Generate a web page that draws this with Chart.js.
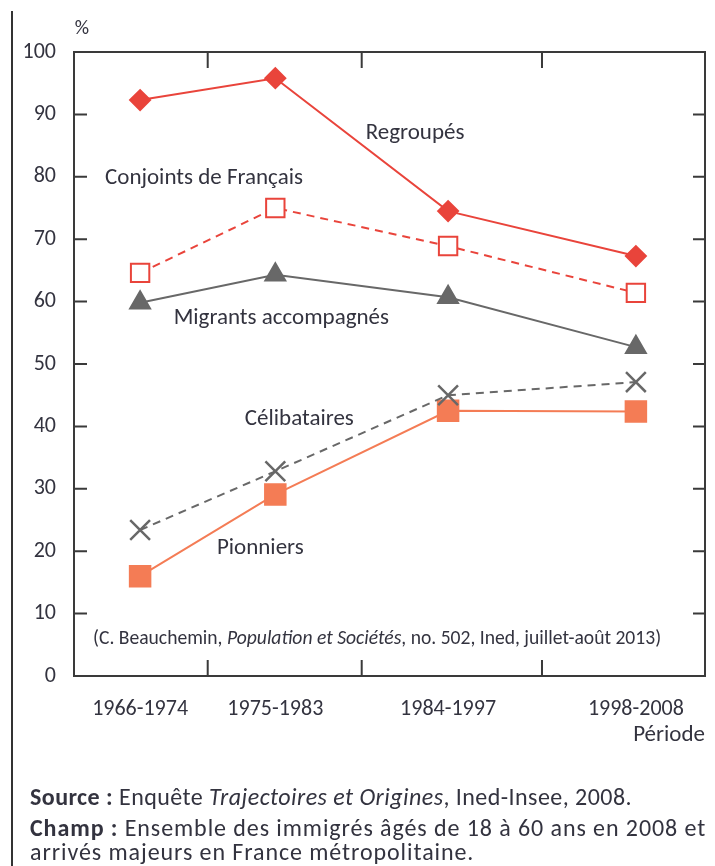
<!DOCTYPE html>
<html>
<head>
<meta charset="utf-8">
<script src="https://cdn.jsdelivr.net/npm/chart.js@4/dist/chart.umd.min.js"></script>
<style>
  html, body { margin: 0; background: #fff; overflow: hidden; }
  #wrap { position: relative; width: 715px; height: 866px; }
  #chart { display: block; }
  #frameLine { position: absolute; left: 11px; top: 11px; width: 2px; height: 855px; background: #333; }
  .note { position: absolute; left: 30px; font-family: Carlito, Lato, sans-serif; font-size: 24px; line-height: 24px; letter-spacing: 0.45px; color: #33333f; white-space: nowrap; }
</style>
</head>
<body>
<div id="wrap">
  <canvas id="chart" width="715" height="866"></canvas>
  <div id="frameLine"></div>
  <div class="note" style="top:785px"><b>Source :</b> Enquête <i>Trajectoires et Origines</i>, Ined-Insee, 2008.</div>
  <div class="note" style="top:816px; letter-spacing:0.92px"><b>Champ :</b> Ensemble des immigrés âgés de 18 à 60 ans en 2008 et<br>arrivés majeurs en France métropolitaine.</div>
</div>
<script>
const periods = ['1966-1974', '1975-1983', '1984-1997', '1998-2008'];
const midYears = periods.map(p => { const [a, b] = p.split('-').map(Number); return (a + b) / 2; });

const regroupes = [92.3, 95.8, 74.5, 67.3];
const conjoints = [64.6, 75.0, 68.9, 61.4];
const migrants = [59.8, 64.3, 60.7, 52.7];
const celibataires = [23.4, 32.8, 45.0, 47.1];
const pionniers = [16.0, 29.1, 42.5, 42.4];

const yMin = 0, yMax = 100, yStep = 10;

const seriesLabels = [
  { text: 'Regroupés', x: 1988.3, y: 87.0 },
  { text: 'Conjoints de Français', x: 1974.25, y: 79.8 },
  { text: 'Migrants accompagnés', x: 1979.4, y: 57.4 },
  { text: 'Célibataires', x: 1980.6, y: 41.2 },
  { text: 'Pionniers', x: 1978.0, y: 20.4 },
];

const FONT = 'Carlito, Lato, sans-serif';
const TEXT = '#33333f';
const RED = '#e9443b';
const GREY = '#686868';
const ORANGE = '#f47c55';

const pts = arr => arr.map((v, i) => ({ x: midYears[i], y: v }));

// frame, inward ticks and free text
const decor = {
  id: 'decor',
  beforeDatasetsDraw(chart) {
    const { ctx, chartArea: a, scales } = chart;
    ctx.save();
    ctx.strokeStyle = '#3a3a3a';
    ctx.lineWidth = 2;
    ctx.strokeRect(a.left, a.top, a.right - a.left, a.bottom - a.top);
    ctx.beginPath();
    for (let v = yMin + yStep; v < yMax; v += yStep) {
      const y = scales.y.getPixelForValue(v);
      ctx.moveTo(a.left, y); ctx.lineTo(a.left + 13, y);
      ctx.moveTo(a.right, y); ctx.lineTo(a.right - 12, y);
    }
    for (let i = 0; i < midYears.length - 1; i++) {
      const x = scales.x.getPixelForValue((midYears[i] + midYears[i + 1]) / 2);
      ctx.moveTo(x, a.bottom); ctx.lineTo(x, a.bottom - 16);
      ctx.moveTo(x, a.top); ctx.lineTo(x, a.top + 16);
    }
    ctx.stroke();
    ctx.restore();
  },
  afterDatasetsDraw(chart) {
    const { ctx, chartArea: a, scales } = chart;
    ctx.save();
    ctx.fillStyle = TEXT;
    ctx.textBaseline = 'middle';
    ctx.textAlign = 'center';
    ctx.font = '23px ' + FONT;
    seriesLabels.forEach(l => {
      ctx.fillText(l.text, scales.x.getPixelForValue(l.x), scales.y.getPixelForValue(l.y));
    });
    ctx.font = '20px ' + FONT;
    ctx.fillText('%', a.left + 8, a.top - 23);
    ctx.font = '23px ' + FONT;
    ctx.textAlign = 'right';
    ctx.fillText('Période', a.right, a.bottom + 59);
    // citation
    ctx.textAlign = 'left';
    let x = a.left + 19;
    const y = a.bottom - 37;
    [['(C. Beauchemin, ', ''], ['Population et Sociétés', 'italic '], [', no. 502, Ined, juillet-août 2013)', '']].forEach(([t, st]) => {
      ctx.font = st + '19.6px ' + FONT;
      ctx.fillText(t, x, y);
      x += ctx.measureText(t).width;
    });
    ctx.restore();
  }
};

new Chart(document.getElementById('chart'), {
  type: 'line',
  data: {
    datasets: [
      {
        label: 'Regroupés',
        data: pts(regroupes),
        borderColor: RED, backgroundColor: RED,
        borderWidth: 2, pointStyle: 'rectRot', pointRadius: 10,
      },
      {
        label: 'Conjoints de Français',
        data: pts(conjoints),
        borderColor: RED, backgroundColor: '#fff',
        borderWidth: 2, borderDash: [8, 6],
        pointStyle: 'rect', pointRadius: 13, pointBorderWidth: 2,
      },
      {
        label: 'Migrants accompagnés',
        data: pts(migrants),
        borderColor: GREY, backgroundColor: GREY,
        borderWidth: 2, pointStyle: 'triangle', pointRadius: 11.5,
      },
      {
        label: 'Célibataires',
        data: pts(celibataires),
        borderColor: GREY, backgroundColor: GREY,
        borderWidth: 2, borderDash: [8, 6],
        pointStyle: 'crossRot', pointRadius: 14, pointBorderWidth: 2.5,
      },
      {
        label: 'Pionniers',
        data: pts(pionniers),
        borderColor: ORANGE, backgroundColor: ORANGE,
        borderWidth: 2, pointStyle: 'rect', pointRadius: 14.5,
      },
    ],
  },
  options: {
    responsive: false,
    animation: false,
    layout: { autoPadding: false, padding: { left: 0, top: 52, right: 10, bottom: 150 } },
    plugins: { legend: { display: false }, tooltip: { enabled: false } },
    scales: {
      x: {
        type: 'linear',
        min: 1965.6,
        max: 2007.6,
        afterFit: s => { s.height = 40; s.paddingLeft = 0; s.paddingRight = 0; },
        afterBuildTicks: s => { s.ticks = midYears.map(v => ({ value: v })); },
        grid: { display: false },
        border: { display: false },
        ticks: {
          autoSkip: false, maxRotation: 0, padding: 12,
          color: TEXT, font: { family: FONT, size: 22 },
          callback: v => periods[midYears.indexOf(v)],
        },
      },
      y: {
        min: yMin,
        max: yMax,
        afterFit: s => { s.width = 74; },
        grid: { display: false },
        border: { display: false },
        ticks: {
          stepSize: yStep, padding: 10,
          color: TEXT, font: { family: FONT, size: 22 },
        },
      },
    },
  },
  plugins: [decor],
});
</script>
</body>
</html>
